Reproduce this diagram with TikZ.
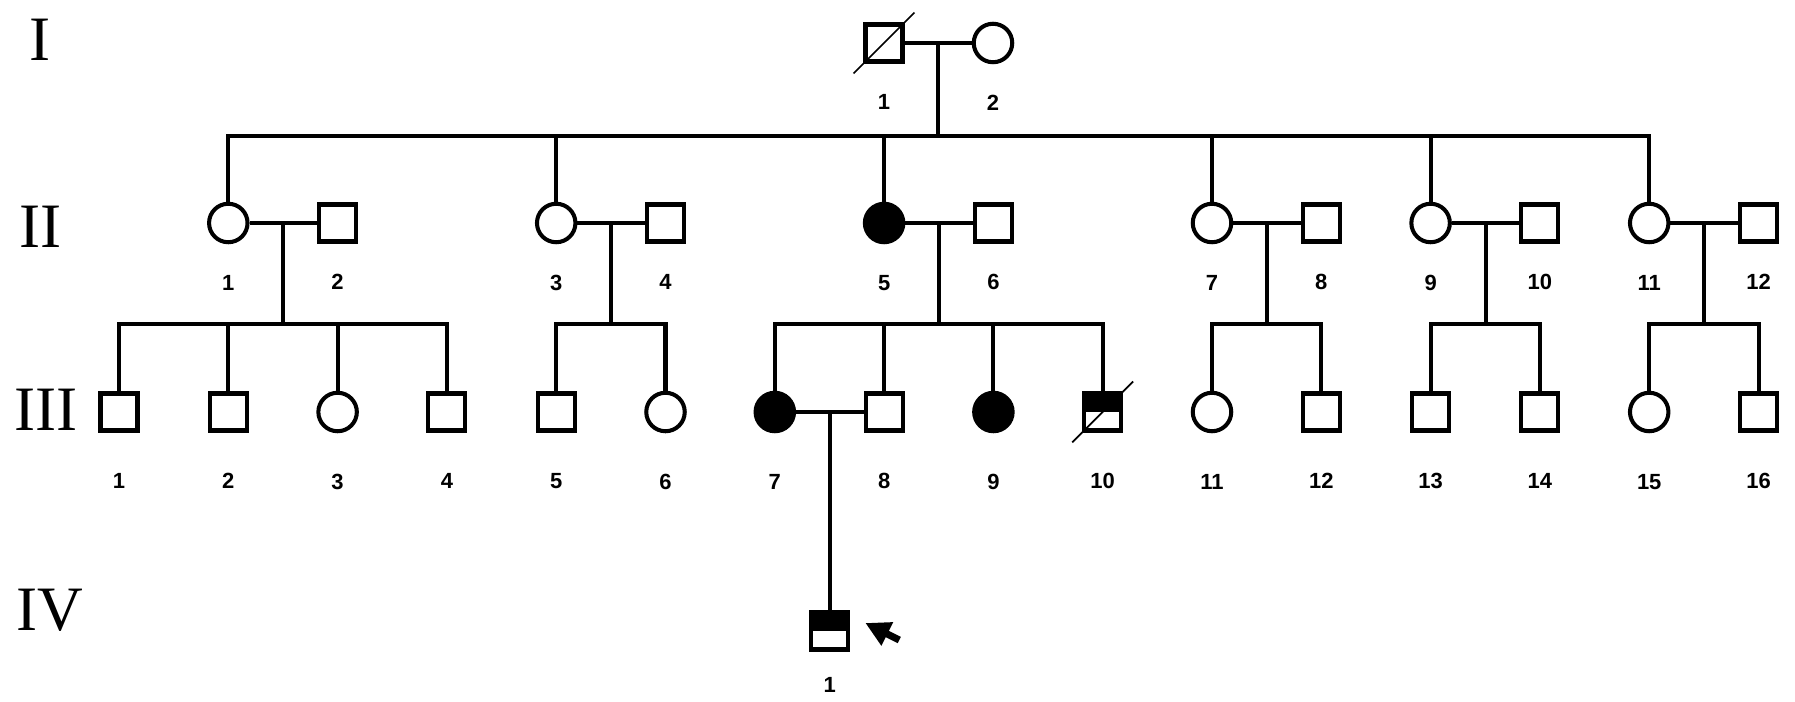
\documentclass[tikz,border=0pt]{standalone}
\usepackage{fontspec}
\setmainfont{Liberation Serif}
\newfontfamily\numfont{Liberation Sans}
\usetikzlibrary{arrows.meta, positioning}

\begin{document}
\begin{tikzpicture}[x=0.02cm, y=-0.02cm, line width=2.3pt,
  male/.style={draw, rectangle, minimum size=0.74cm, inner sep=0pt},
  female/.style={draw, circle, minimum size=0.77cm, inner sep=0pt},
  afffemale/.style={female, fill=black},
  halfmale/.style={male, path picture={\fill (path picture bounding box.north west) rectangle (path picture bounding box.east);}},
  gen/.style={font=\fontsize{36}{36}\selectfont},
  num/.style={font=\numfont\bfseries\fontsize{12.5}{12.5}\selectfont, inner sep=0pt, text height=9pt, text depth=0pt},
  dead/.style={line width=1pt, shorten <=-8pt, shorten >=-8pt}
]
\useasboundingbox (0,0) rectangle (1795,702);

% generations
\node[gen] (gI) at (40,40) {I};
\node[gen] (gII) at (41,227) {II};
\node[gen] (gIII) at (46,410) {III};
\node[gen] (gIV) at (50,610) {IV};

% I
\node[male, label={[num, label distance=0.56cm]below:1}] (i1) at (884,43) {};
\node[female, label={[num, label distance=0.56cm]below:2}] (i2) at (993,43) {};
\draw[dead] (i1.south west) -- (i1.north east);
\draw (i1) -- coordinate (mi) (i2);

% II
\foreach \k/\col/\s in {1/2/female, 2/3/male, 3/5/female, 4/6/male, 5/8/afffemale, 6/9/male,
  7/11/female, 8/12/male, 9/13/female, 10/14/male, 11/15/female, 12/16/male}
  \node[\s, label={[num, label distance=0.56cm]below:\k}] (ii\k) at ({119+109.3*(\col-1)},223) {};

\draw (mi) -- (mi |- 0,136);
\draw (ii1) -- (ii1 |- 0,136) -- (ii11 |- 0,136) -- (ii11);
\foreach \k in {3,5,7,9}
  \draw (ii\k) -- (ii\k |- 0,136);

\foreach \a/\b in {1/2, 3/4, 5/6, 7/8, 9/10, 11/12} {
  \draw (ii\a) -- coordinate (mii\a) (ii\b);
  \draw (mii\a) -- (mii\a |- 0,324);
}

% III
\foreach \k/\s in {1/male, 2/male, 3/female, 4/male, 5/male, 6/female, 7/afffemale, 8/male,
  9/afffemale, 10/halfmale, 11/female, 12/male, 13/male, 14/male, 15/female, 16/male}
  \node[\s, label={[num, label distance=0.76cm]below:\k}] (iii\k) at ({119+109.3*(\k-1)},412) {};
\draw[dead] (iii10.south west) -- (iii10.north east);

\foreach \f/\l in {1/4, 5/6, 7/10, 11/12, 13/14, 15/16}
  \draw (iii\f) -- (iii\f |- 0,324) -- (iii\l |- 0,324) -- (iii\l);
\foreach \k in {2,3,8,9}
  \draw (iii\k) -- (iii\k |- 0,324);

\draw (iii7) -- coordinate (miii7) (iii8);

% IV
\node[halfmale, label={[num, label distance=0.46cm]below:1}] (iv1) at (miii7 |- 0,631) {};
\draw (miii7) -- (iv1);

\coordinate (ptip) at ([shift={(15,-8)}]iv1.east);
\coordinate (ptail) at ([shift={(49,9)}]iv1.east);
\draw[-{Triangle[length=14pt, width=14pt]}, line width=4pt] (ptail) -- (ptip);

\end{tikzpicture}
\end{document}
